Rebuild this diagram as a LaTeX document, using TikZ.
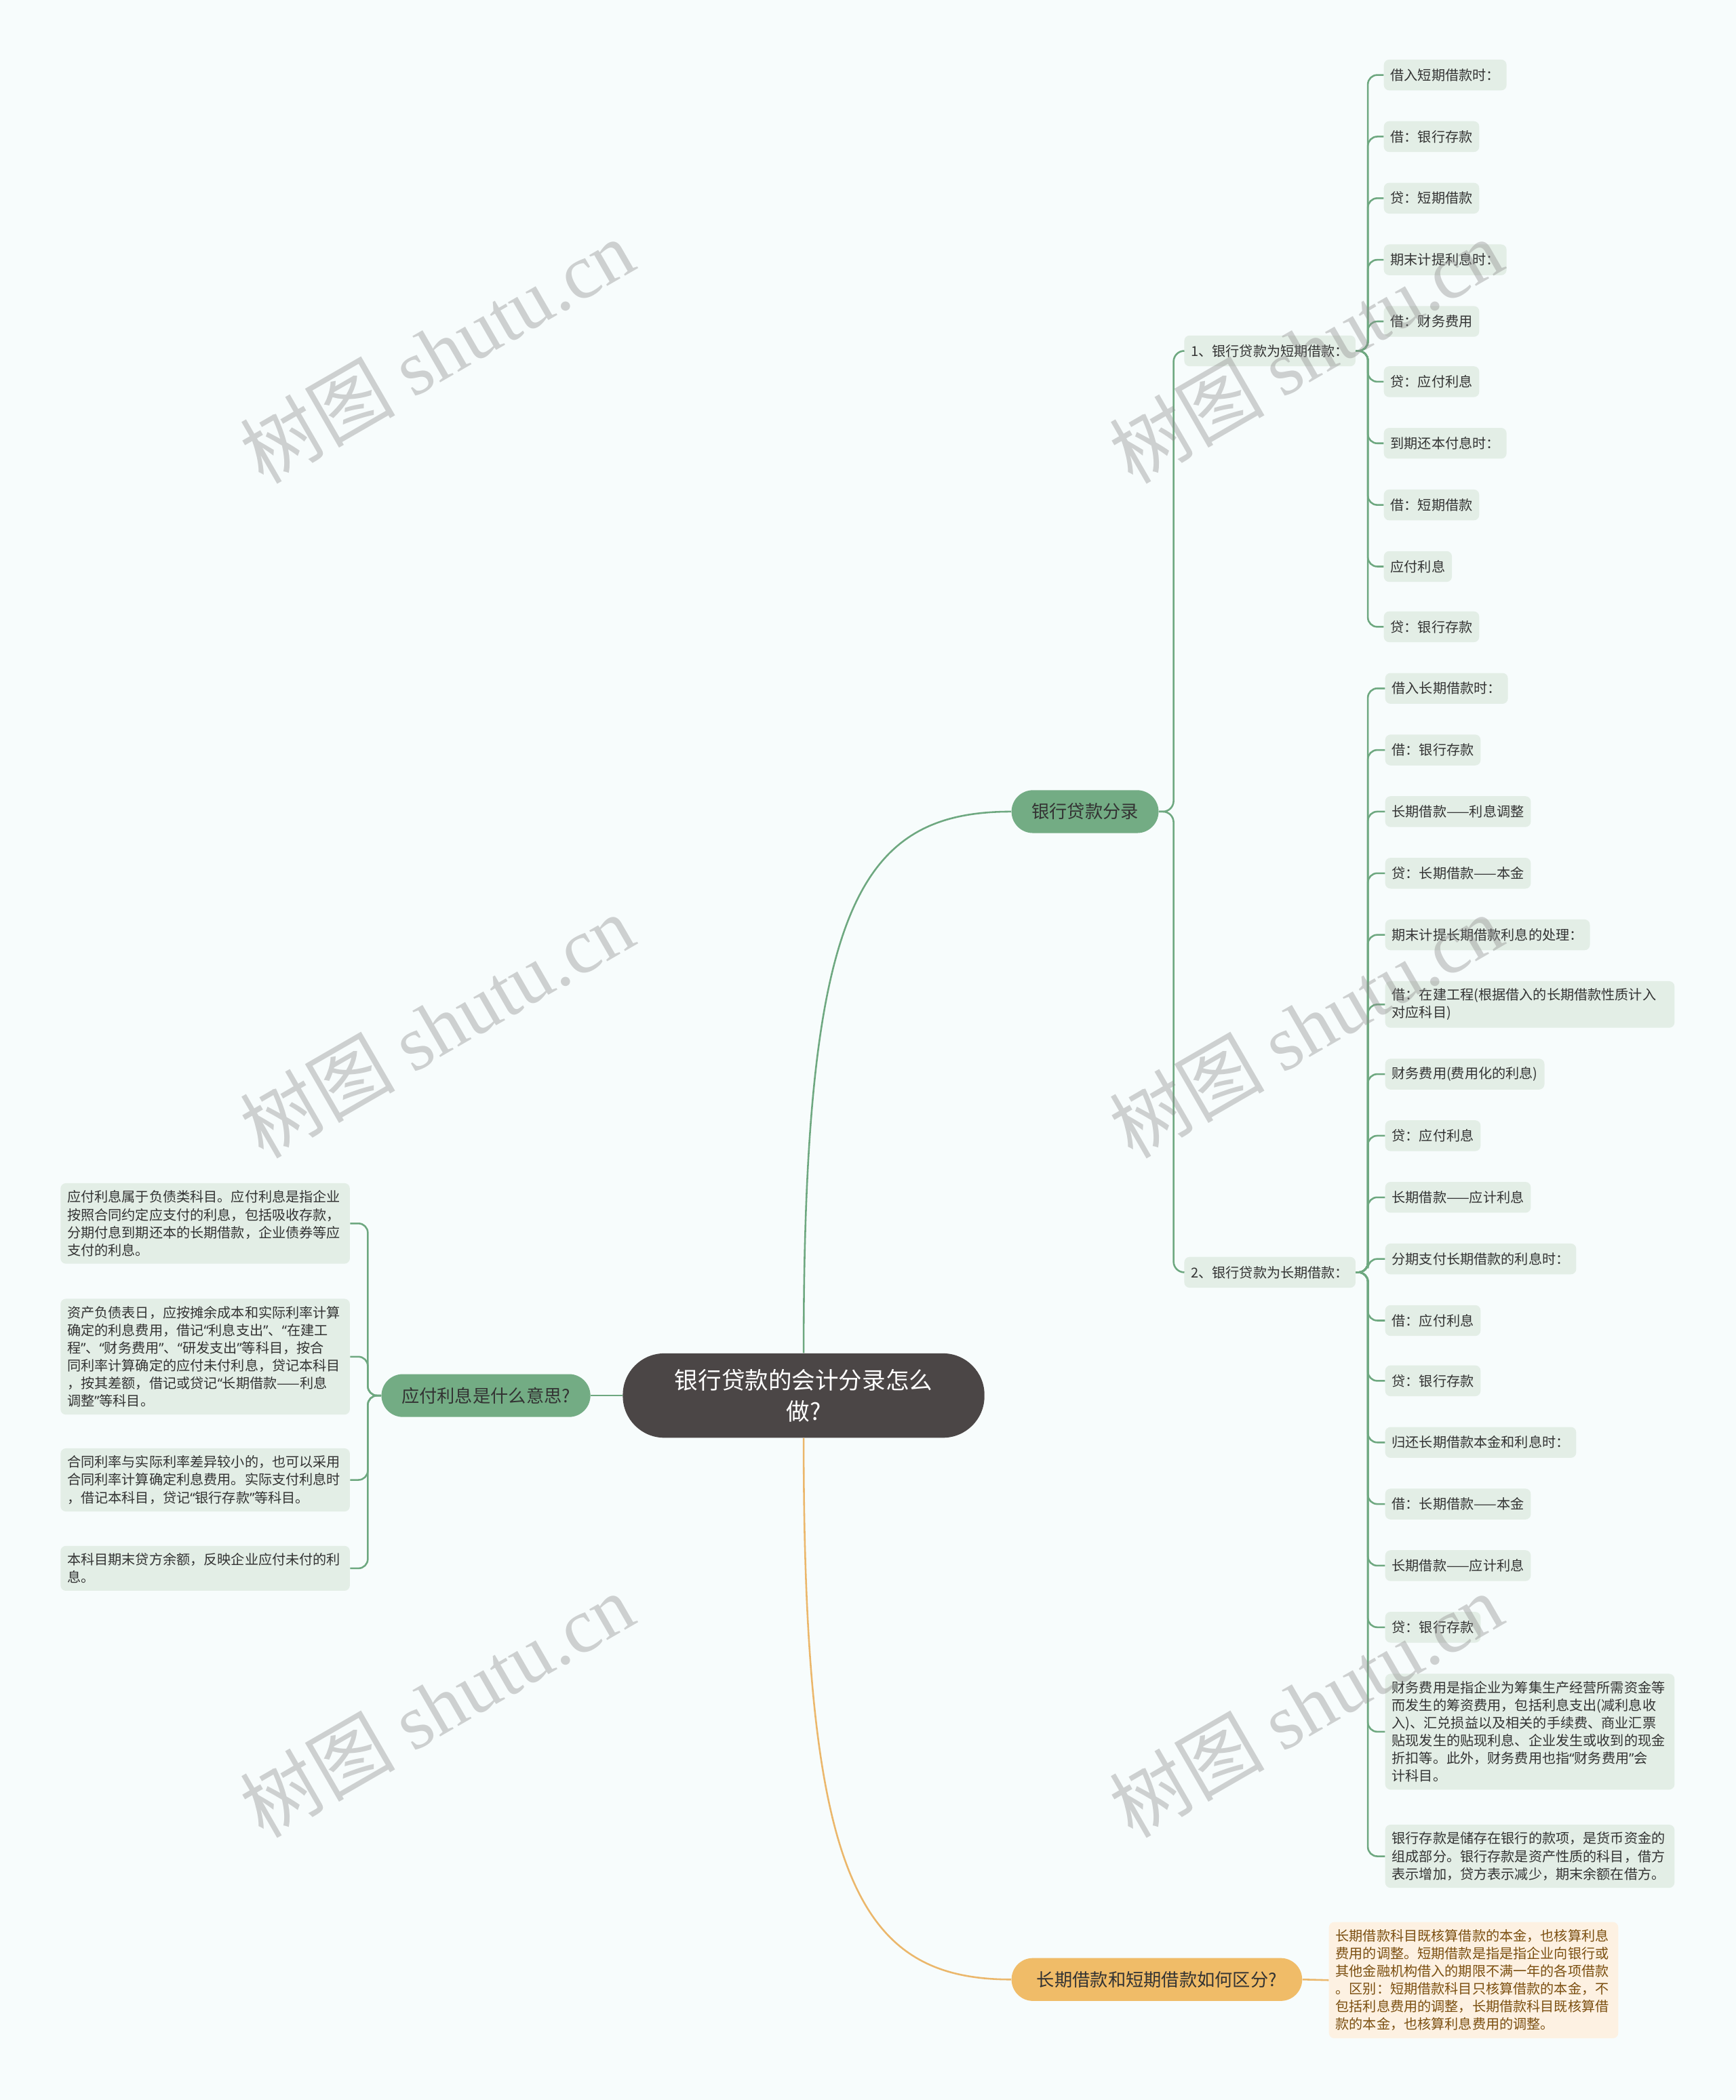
\documentclass[tikz,border=0pt]{standalone}
\usepackage{fontspec}
\setmainfont{Noto Sans CJK SC}
\newfontfamily\wmserif{Liberation Serif}
\newfontfamily\qfont{Noto Sans}
\newcommand{\oq}{{\qfont “}}
\newcommand{\cq}{{\qfont ”}}
\definecolor{bgc}{HTML}{F7FCFC}
\definecolor{rootc}{HTML}{4B4646}
\definecolor{grc}{HTML}{73AC84}
\definecolor{glc}{HTML}{6EA880}
\definecolor{leafc}{HTML}{E3EEE6}
\definecolor{orc}{HTML}{F0BC68}
\definecolor{olc}{HTML}{EBB76B}
\definecolor{oleafc}{HTML}{FDF1E2}
\definecolor{obrown}{HTML}{7B4F10}
\definecolor{txt}{HTML}{333333}
\definecolor{wmc}{HTML}{8E8E8E}
\begin{document}
\begin{tikzpicture}[x=1pt,y=-1pt,
  leaf/.style={fill=leafc, rounded corners=4pt, inner xsep=5pt, inner ysep=5.5pt, anchor=west, align=left, text=txt, font=\fontsize{10.2}{13.2}\selectfont},
  sleaf/.style={leaf, minimum height=23pt},
  para/.style={leaf, text width=206pt},
  branch/.style={rounded corners=16pt, minimum height=32pt, inner xsep=15pt, text=txt, font=\fontsize{13.3}{16}\selectfont},
  gline/.style={draw=glc, line width=1.3pt},
  oline/.style={draw=olc, line width=1.3pt},
  wm/.style={text=wmc, opacity=0.4, rotate=30, font=\fontsize{58}{60}\selectfont}
]
\fill[bgc] (0,0) rectangle (1296,1568);
\useasboundingbox (0,0) rectangle (1296,1568);

% root and main branches
\node[fill=rootc, text=white, rounded corners=31pt, minimum width=270pt, minimum height=63pt, align=center, font=\fontsize{17.5}{23.5}\selectfont] (root) at (600,1042) {银行贷款的会计分录怎么\\做?};
\node[branch, fill=grc, anchor=west] (b1) at (755,606) {银行贷款分录};
\node[branch, fill=grc, anchor=east] (b2) at (441,1042) {应付利息是什么意思?};
\node[branch, fill=orc, anchor=west, minimum width=217pt] (b3) at (755,1478) {长期借款和短期借款如何区分?};

% level 2
\node[sleaf] (s) at (884,262) {1、银行贷款为短期借款：};
\node[sleaf] (l) at (884,950) {2、银行贷款为长期借款：};

% short-term children
\node[sleaf] (s1) at (1033,56) {借入短期借款时：};
\node[sleaf] (s2) at (1033,102) {借：银行存款};
\node[sleaf] (s3) at (1033,148) {贷：短期借款};
\node[sleaf] (s4) at (1033,194) {期末计提利息时：};
\node[sleaf] (s5) at (1033,240) {借：财务费用};
\node[sleaf] (s6) at (1033,285) {贷：应付利息};
\node[sleaf] (s7) at (1033,331) {到期还本付息时：};
\node[sleaf] (s8) at (1033,377) {借：短期借款};
\node[sleaf] (s9) at (1033,423) {应付利息};
\node[sleaf] (s10) at (1033,468) {贷：银行存款};

% long-term children
\node[sleaf] (l1) at (1034,514) {借入长期借款时：};
\node[sleaf] (l2) at (1034,560) {借：银行存款};
\node[sleaf] (l3) at (1034,606) {长期借款——利息调整};
\node[sleaf] (l4) at (1034,652) {贷：长期借款——本金};
\node[sleaf] (l5) at (1034,698) {期末计提长期借款利息的处理：};
\node[para] (l6) at (1034,750) {借：在建工程(根据借入的长期借款性质计入\\对应科目)};
\node[sleaf] (l7) at (1034,802) {财务费用(费用化的利息)};
\node[sleaf] (l8) at (1034,848) {贷：应付利息};
\node[sleaf] (l9) at (1034,894) {长期借款——应计利息};
\node[sleaf] (l10) at (1034,940) {分期支付长期借款的利息时：};
\node[sleaf] (l11) at (1034,986) {借：应付利息};
\node[sleaf] (l12) at (1034,1031) {贷：银行存款};
\node[sleaf] (l13) at (1034,1077) {归还长期借款本金和利息时：};
\node[sleaf] (l14) at (1034,1123) {借：长期借款——本金};
\node[sleaf] (l15) at (1034,1169) {长期借款——应计利息};
\node[sleaf] (l16) at (1034,1215) {贷：银行存款};
\node[para] (l17) at (1034,1293) {财务费用是指企业为筹集生产经营所需资金等\\而发生的筹资费用，包括利息支出(减利息收\\入)、汇兑损益以及相关的手续费、商业汇票\\贴现发生的贴现利息、企业发生或收到的现金\\折扣等。此外，财务费用也指\oq 财务费用\cq 会\\计科目。};
\node[para] (l18) at (1034,1386) {银行存款是储存在银行的款项，是货币资金的\\组成部分。银行存款是资产性质的科目，借方\\表示增加，贷方表示减少，期末余额在借方。};

% left children
\node[para] (p1) at (45,913.5) {应付利息属于负债类科目。应付利息是指企业\\按照合同约定应支付的利息，包括吸收存款，\\分期付息到期还本的长期借款，企业债券等应\\支付的利息。};
\node[para] (p2) at (45,1013) {资产负债表日，应按摊余成本和实际利率计算\\确定的利息费用，借记\oq 利息支出\cq 、\oq 在建工\\程\cq 、\oq 财务费用\cq 、\oq 研发支出\cq 等科目，按合\\同利率计算确定的应付未付利息，贷记本科目\\，按其差额，借记或贷记\oq 长期借款——利息\\调整\cq 等科目。};
\node[para] (p3) at (45,1105) {合同利率与实际利率差异较小的，也可以采用\\合同利率计算确定利息费用。实际支付利息时\\，借记本科目，贷记\oq 银行存款\cq 等科目。};
\node[para] (p4) at (45,1171) {本科目期末贷方余额，反映企业应付未付的利\\息。};

% orange child
\node[para, fill=oleafc, text=obrown] (o1) at (992,1478.5) {长期借款科目既核算借款的本金，也核算利息\\费用的调整。短期借款是指是指企业向银行或\\其他金融机构借入的期限不满一年的各项借款\\。区别：短期借款科目只核算借款的本金，不\\包括利息费用的调整，长期借款科目既核算借\\款的本金，也核算利息费用的调整。};

% connectors
\draw[gline] (root.north) .. controls (600,680) and (640,606) .. (b1.west);
\draw[gline] (root.west) -- (b2.east);
\draw[oline] (root.south) .. controls (600,1400) and (640,1478) .. (b3.west);
\draw[oline] (b3.east) -- (o1.west);
\draw[gline, rounded corners=8pt] (b1.east) -- ++(11,0) |- (s.west);
\draw[gline, rounded corners=8pt] (b1.east) -- ++(11,0) |- (l.west);
\foreach \c in {s1,s2,s3,s4,s5,s6,s7,s8,s9,s10}
  \draw[gline, rounded corners=7pt] (s.east) -- ++(9,0) |- (\c.west);
\foreach \c in {l1,l2,l3,l4,l5,l6,l7,l8,l9,l10,l11,l12,l13,l14,l15,l16,l17,l18}
  \draw[gline, rounded corners=7pt] (l.east) -- ++(9,0) |- (\c.west);
\foreach \c in {p1,p2,p3,p4}
  \draw[gline, rounded corners=7pt] (b2.west) -- ++(-10,0) |- (\c.east);

% watermarks
\foreach \px/\py in {326/262, 975/262, 326/766, 975/766, 326/1273, 975/1273}
  \node[wm] (wm-\px-\py) at (\px,\py) {树图 {\wmserif shutu.cn}};
\end{tikzpicture}
\end{document}
